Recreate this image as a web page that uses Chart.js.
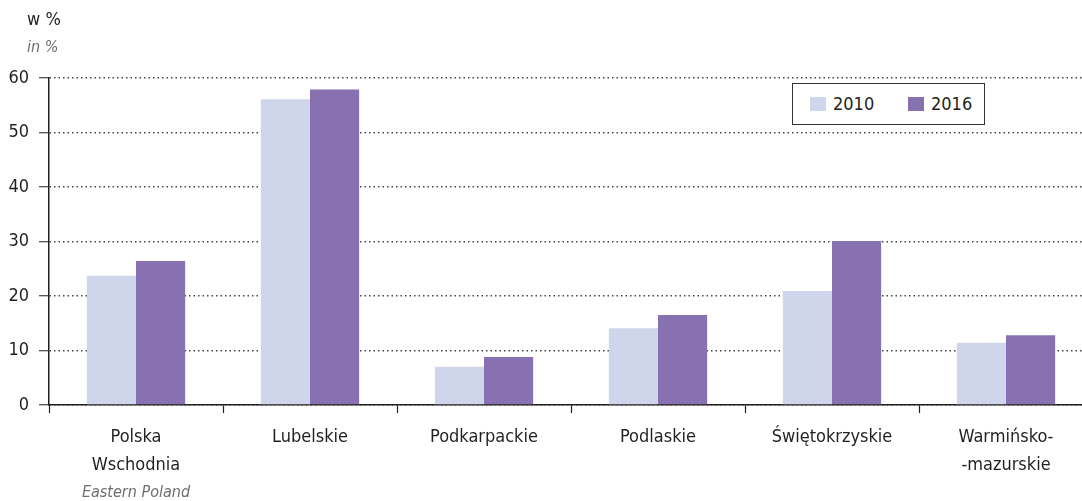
<!DOCTYPE html>
<html>
<head>
<meta charset="utf-8">
<script src="https://cdn.jsdelivr.net/npm/chart.js@4/dist/chart.umd.min.js"></script>
<style>
	html, body { margin: 0; padding: 0; background: #fff; overflow: hidden; }
	#wrap { position: relative; width: 1093px; height: 501px; }
	#legend {
		position: absolute; left: 792px; top: 83px; width: 191px; height: 40px;
		border: 1.5px solid #333; background: #fff;
		font-family: "Liberation Sans Narrow", "DejaVu Sans Condensed", sans-serif;
		font-size: 18px; color: #231f20;
	}
	#legend span.item { position: absolute; top: 0; line-height: 40px; }
	#legend span.sw { display: inline-block; width: 16px; height: 14px; vertical-align: -1px; margin-right: 7px; }
</style>
</head>
<body>
<div id="wrap">
	<canvas id="myChart" width="1093" height="501"></canvas>
	<div id="legend"></div>
</div>
<script>
var FONT = '"Liberation Sans Narrow", "DejaVu Sans Condensed", sans-serif';

var categories = [
	["Polska", "Wschodnia"],
	"Lubelskie",
	"Podkarpackie",
	"Podlaskie",
	"Świętokrzyskie",
	["Warmińsko-", "-mazurskie"]
];
var subLabels = ["Eastern Poland", "", "", "", "", ""];
var years = ["2010", "2016"];
var values2010 = [23.7, 56.1, 7.0, 14.1, 20.9, 11.4];
var values2016 = [26.4, 57.9, 8.8, 16.5, 30.1, 12.8];
var yTicks = [0, 10, 20, 30, 40, 50, 60];
var colors = ["#cfd5ea", "#8771b1"];

// legend in a box
var legend = document.getElementById("legend");
var lx = [17, 115];
for (var i = 0; i < years.length; i++) {
	var it = document.createElement("span");
	it.className = "item";
	it.style.left = lx[i] + "px";
	it.innerHTML = '<span class="sw" style="background:' + colors[i] + '"></span>' + years[i];
	legend.appendChild(it);
}

// axis titles and english sublabel
var extraText = {
	id: "extraText",
	afterDraw: function (chart) {
		var ctx = chart.ctx;
		var x = chart.scales.x;
		ctx.save();
		ctx.textAlign = "left";
		ctx.textBaseline = "alphabetic";
		ctx.fillStyle = "#231f20";
		ctx.font = "18px " + FONT;
		ctx.fillText("w %", 27, 25);
		ctx.fillStyle = "#6d6e71";
		ctx.font = "italic 16px " + FONT;
		ctx.fillText("in %", 27, 52);
		ctx.textAlign = "center";
		for (var i = 0; i < subLabels.length; i++) {
			if (!subLabels[i]) continue;
			ctx.fillText(subLabels[i], x.getPixelForValue(i), 497);
		}
		ctx.restore();
	}
};

var ctx = document.getElementById("myChart").getContext("2d");
var myChart = new Chart(ctx, {
	type: "bar",
	data: {
		labels: categories,
		datasets: [
			{
				label: years[0],
				data: values2010,
				backgroundColor: colors[0],
				borderWidth: 0,
			},
			{
				label: years[1],
				data: values2016,
				backgroundColor: colors[1],
				borderWidth: 0,
			},
		],
	},
	options: {
		responsive: false,
		animation: false,
		layout: { padding: { top: 78, right: 0, left: 0, bottom: 0 } },
		plugins: {
			legend: { display: false },
			tooltip: { enabled: false },
		},
		datasets: {
			bar: { categoryPercentage: 0.565, barPercentage: 1 },
		},
		scales: {
			x: {
				afterFit: function (scale) { scale.height = 96; },
				border: { display: true, color: "#231f20", width: 1.5 },
				grid: {
					offset: true,
					drawOnChartArea: false,
					tickLength: 8,
					tickColor: "#231f20",
					tickWidth: 1.2,
				},
				ticks: {
					color: "#231f20",
					font: { family: FONT, size: 18, lineHeight: 1.55 },
					padding: 10,
					maxRotation: 0,
				},
			},
			y: {
				min: 0,
				max: 60,
				afterFit: function (scale) { scale.width = 49; },
				afterBuildTicks: function (scale) {
					scale.ticks = yTicks.map(function (v) { return { value: v }; });
				},
				border: { display: true, color: "#231f20", width: 1.5, dash: [1.5, 3] },
				grid: {
					color: "#444",
					lineWidth: 1.5,
					tickLength: 10,
					tickColor: "#231f20",
					tickWidth: 1.2,
					tickBorderDash: [1, 0],
				},
				ticks: {
					color: "#231f20",
					font: { family: FONT, size: 18 },
					padding: 10,
				},
			},
		},
	},
	plugins: [extraText],
});
</script>
</body>
</html>
